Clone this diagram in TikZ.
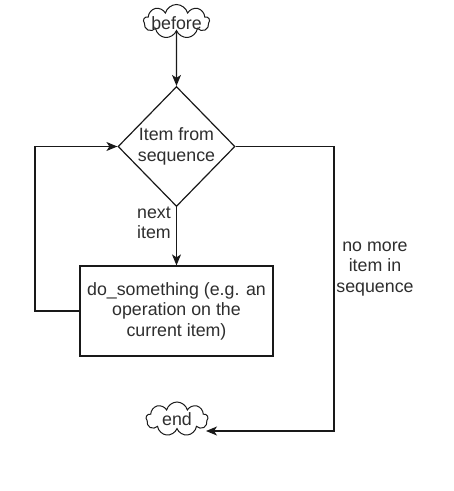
\documentclass[tikz,border=0pt]{standalone}
\usepackage{fontspec}
\setmainfont{Liberation Sans}
\usetikzlibrary{shapes.geometric,shapes.symbols,arrows.meta}
\begin{document}
\begin{tikzpicture}[x=1pt,y=-1pt,
  every node/.style={text=black!82, font=\fontsize{17.8}{20.5}\selectfont},
  line/.style={draw=black!90, line width=1.2pt},
  arrow/.style={line, -{Stealth[length=11pt,width=9pt,inset=3pt]}},
  cloudbox/.style={cloud, draw=black!90, line width=1pt, cloud puffs=9,
    cloud ignores aspect, inner sep=0pt, fill=white},
  decision/.style={diamond, draw=black!90, line width=1.2pt, inner sep=0pt,
    minimum width=117pt, minimum height=120pt},
  process/.style={rectangle, draw=black!90, line width=1.2pt,
    minimum width=193pt, minimum height=90pt, align=center, inner sep=0pt},
  note/.style={align=center, inner sep=0pt},
]
\useasboundingbox[fill=white] (0,0) rectangle (454,491);

% nodes
\node[cloudbox, minimum width=66pt, minimum height=34pt,
      label={[inner sep=0pt, yshift=-2pt]center:before}] (before) at (176.5,21.5) {};
\node[decision, label={[note]center:{Item from\\sequence}}] (dec) at (176.5,146.5) {};
\node[process] (work) at (176.5,311) {do\_something (e.g. an\\operation on the\\current item)};
\node[cloudbox, minimum width=62pt, minimum height=34pt,
      label={[inner sep=0pt]center:end}] (endc) at (177,419) {};

% edge labels
\node[note, align=left, anchor=west] (nextlbl) at (137,223) {next\\item};
\node[note] (nomore) at (375,269) {no more\\item in\\sequence};

% turning points and the end of the exit connector
\coordinate (loopL) at (35,311);
\coordinate (exitR) at (334,431);
\coordinate (endhit) at (206,431);

% connectors
\draw[arrow] (before.south) -- (dec.north);
\draw[arrow] (dec.south) -- (work.north);
\draw[arrow] (work.west) -- (loopL) |- (dec.west);
\draw[arrow] (dec.east) -| (exitR) -- (endhit);
\end{tikzpicture}
\end{document}
